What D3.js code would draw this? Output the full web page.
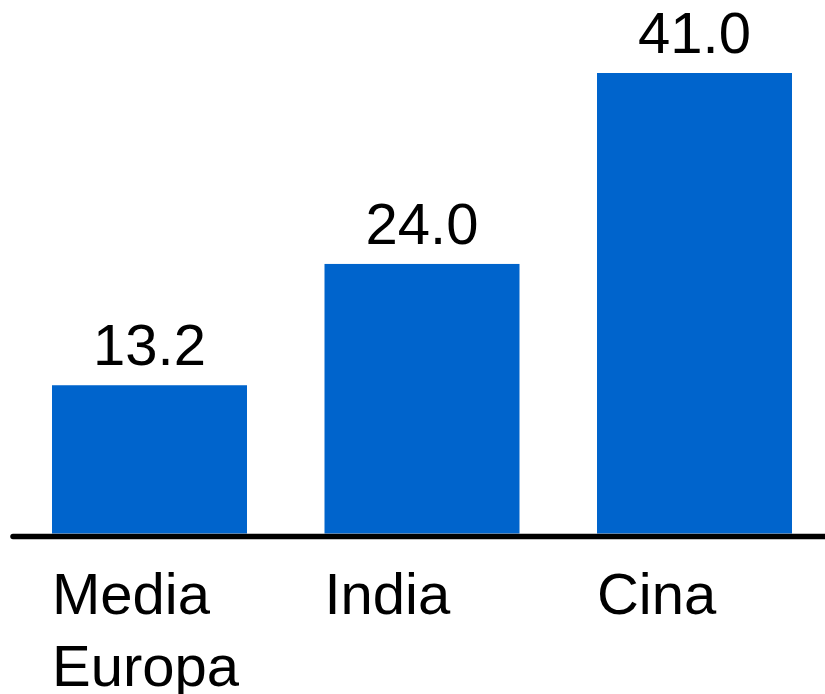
<!DOCTYPE html>
<html>
<head>
<meta charset="utf-8">
<script src="https://cdn.jsdelivr.net/npm/d3@7/dist/d3.min.js"></script>
<style>
  html, body { margin: 0; padding: 0; background: #fff; }
  svg { display: block; font-family: "Liberation Sans", Arial, sans-serif; }
</style>
</head>
<body>
<svg width="825" height="694"></svg>
<script>
const categories = ["Media Europa", "India", "Cina"];
const values = [13.2, 24.0, 41.0];

const svg = d3.select("svg");

// band scale tuned so bars land where they are in the picture
const x = d3.scaleBand().domain(categories)
    .range([-25.5, 869.5])
    .padding(0.2844);

const y = d3.scaleLinear().domain([0, 47.5]).range([533.5, 0]);

const data = categories.map((c, i) => ({ cat: c, val: values[i] }));

svg.append("g").selectAll("rect").data(data).enter()
    .append("rect")
    .attr("x", d => x(d.cat))
    .attr("y", d => y(d.val))
    .attr("width", x.bandwidth())
    .attr("height", d => y(0) - y(d.val))
    .attr("fill", "#0064cc");

// value labels above bars
svg.append("g").selectAll("text").data(data).enter()
    .append("text")
    .attr("x", d => x(d.cat) + x.bandwidth() / 2)
    .attr("y", d => y(d.val) - 20)
    .attr("text-anchor", "middle")
    .attr("font-size", 58)
    .attr("fill", "#000")
    .text(d => d.val.toFixed(1));

// baseline
svg.append("line")
    .attr("x1", 13).attr("x2", 830)
    .attr("y1", y(0) + 3).attr("y2", y(0) + 3)
    .attr("stroke", "#000")
    .attr("stroke-width", 5.5)
    .attr("stroke-linecap", "round");

// category labels, left aligned with bar, wrapped on spaces
const labels = svg.append("g").selectAll("text").data(data).enter()
    .append("text")
    .attr("x", d => x(d.cat))
    .attr("y", 614)
    .attr("font-size", 58)
    .attr("fill", "#000");

labels.selectAll("tspan").data(d => d.cat.split(" ").map(w => ({ w, x: x(d.cat) })))
    .enter().append("tspan")
    .attr("x", t => t.x)
    .attr("dy", (t, i) => i === 0 ? 0 : 72)
    .text(t => t.w);
</script>
</body>
</html>
